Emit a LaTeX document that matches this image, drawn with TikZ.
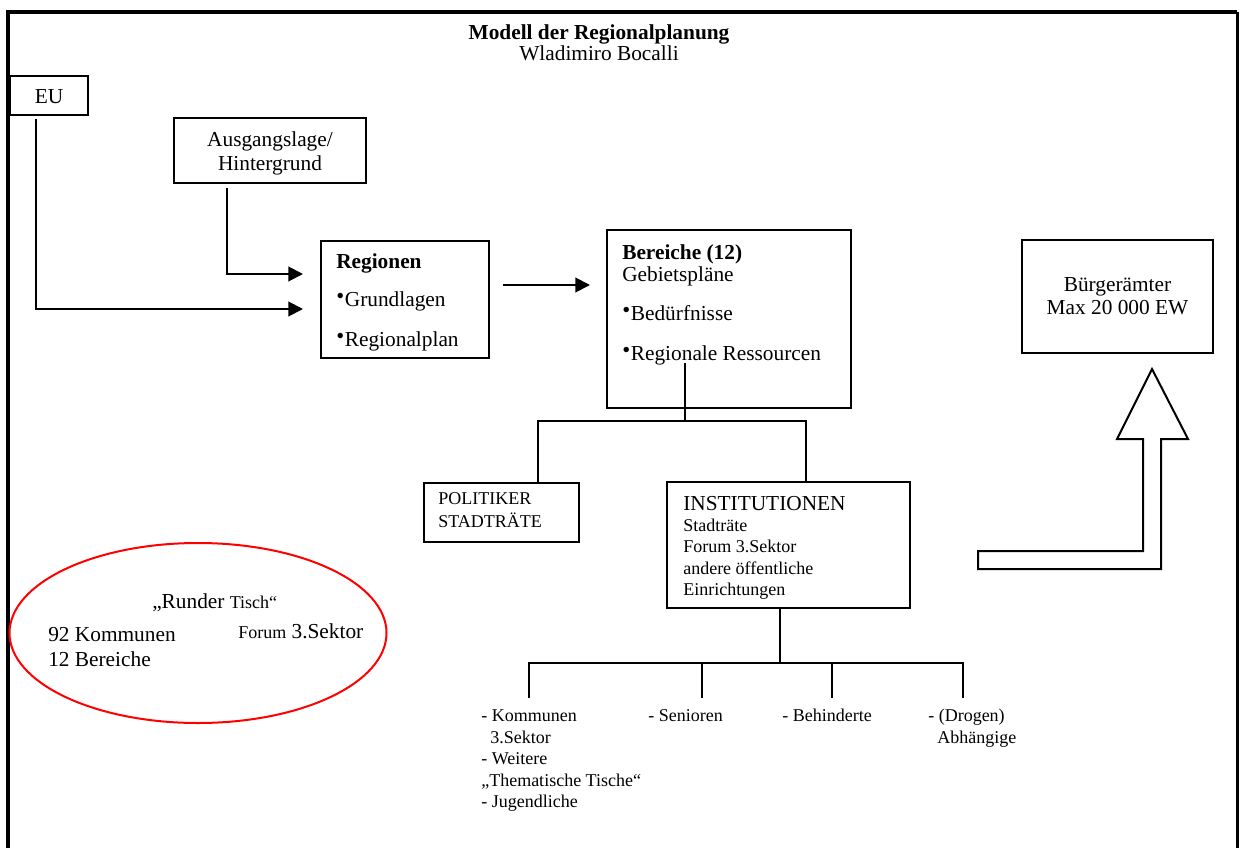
\documentclass[tikz,border=0pt]{standalone}
\usepackage{fontspec}
\setmainfont{Liberation Serif}
\usetikzlibrary{arrows.meta,calc,shapes.geometric}
\newcommand\fbig{\fontsize{16}{18}\selectfont}
\newcommand\fsmall{\fontsize{13.5}{16}\selectfont}
\newcommand\bul{\raisebox{0.3ex}{\fontsize{17}{17}\selectfont •}\kern0.5pt}
\begin{document}
\begin{tikzpicture}[x=0.75pt,y=-0.75pt,
  box/.style={draw, line width=1.5pt, anchor=north west, inner sep=0pt, outer sep=0pt},
  hbox/.style={draw, line width=2pt, anchor=north west, inner sep=0pt, outer sep=0pt},
  txt/.style={anchor=base west, inner sep=0pt, font=\fbig},
  txtc/.style={anchor=base, inner sep=0pt, font=\fbig},
  stxt/.style={anchor=base west, inner sep=0pt, font=\fsmall},
  conn/.style={line width=1.5pt},
  arr/.style={conn, -{Triangle[length=11pt,width=11pt]}}]
\useasboundingbox (0,0) rectangle (1240,847);
\clip (0,0) rectangle (1240,847);
\fill[white] (0,0) rectangle (1240,847);
% frame
\draw[line width=3pt] (8,870) -- (8,12) -- (1237,12);
\draw[line width=2.25pt] (1237,12) -- (1237,870);
% title
\node[txtc, font=\fbig\bfseries] (title) at (599,39) {Modell der Regionalplanung};
\node[txtc] (author) at (599,60) {Wladimiro Bocalli};
% boxes
\node[box, minimum width=58.5pt, minimum height=29.25pt] (eu) at (10,76) {};
\node[txtc] (eut) at (49,103) {EU};
\node[box, minimum width=144pt, minimum height=48.75pt] (aus) at (174,118) {};
\node[txtc] (aus1) at (270,146) {Ausgangslage/};
\node[txtc] (aus2) at (270,170) {Hintergrund};
\node[box, minimum width=126pt, minimum height=87.75pt] (reg) at (321,241) {};
\node[txt, font=\fbig\bfseries] (reg1) at (336,268) {Regionen};
\node[txt] (reg2) at (336,306) {\bul Grundlagen};
\node[txt] (reg3) at (336,346) {\bul Regionalplan};
\node[box, minimum width=183pt, minimum height=133.5pt] (ber) at (607,230) {};
\node[txt, font=\fbig\bfseries] (ber1) at (622,259) {Bereiche (12)};
\node[txt] (ber2) at (622,281) {Gebietspläne};
\node[txt] (ber3) at (622,320) {\bul Bedürfnisse};
\node[txt] (ber4) at (622,360) {\bul Regionale Ressourcen};
\node[hbox, minimum width=116.25pt, minimum height=44.25pt] (pol) at (424,483) {};
\node[stxt] (pol1) at (438,504) {POLITIKER};
\node[stxt] (pol2) at (438,527) {STADTRÄTE};
\node[hbox, minimum width=182.25pt, minimum height=94.5pt] (inst) at (667,482) {};
\node[txt] (inst1) at (683,510) {INSTITUTIONEN};
\node[stxt] (inst2) at (683,531) {Stadträte};
\node[stxt] (inst3) at (683,552) {Forum 3.Sektor};
\node[stxt] (inst4) at (683,574) {andere öffentliche};
\node[stxt] (inst5) at (683,595) {Einrichtungen};
\node[box, minimum width=143.25pt, minimum height=84.75pt] (bue) at (1022,240) {};
\node[txtc] (bue1) at (1117.5,291) {Bürgerämter};
\node[txtc] (bue2) at (1117.5,314) {Max 20 000 EW};
% connectors top
\coordinate (euX) at (36,0);
\coordinate (ausX) at (227,0);
\draw[arr] ($(eu.south -| euX)+(0,4)$) |- ($(reg.west)+(-18,9.5)$);
\draw[arr] ($(aus.south -| ausX)+(0,5)$) |- ($(reg.west)+(-18,-25.5)$);
\draw[arr] ($(reg.east)+(14,-14.5)$) -- ($(reg.east -| ber.west)+(-17,-14.5)$);
% Bereiche tree
\coordinate (bX) at (685,363);
\coordinate (bJ) at (685,421);
\draw[conn] (bX) -- (bJ);
\draw[conn] ($(pol.north)+(36.5,0)$) |- (bJ) -| ($(inst.north)+(17.5,0)$);
% Institutionen tree
\coordinate (iJ) at (780,663);
\coordinate (d1) at (529,698);
\coordinate (d2) at (702,698);
\coordinate (d3) at (832,698);
\coordinate (d4) at (963,698);
\draw[conn] (inst.south -| iJ) -- (iJ);
\draw[conn] (d1) |- (iJ) -| (d4);
\draw[conn] (d2) -- (d2 |- iJ);
\draw[conn] (d3) -- (d3 |- iJ);
\node[stxt] (l1) at (481,721) {- Kommunen};
\node[stxt] (l2) at (490,743) {3.Sektor};
\node[stxt] (l3) at (481,764) {- Weitere};
\node[stxt] (l4) at (481,786) {„Thematische Tische“};
\node[stxt] (l5) at (481,807) {- Jugendliche};
\node[stxt] (s1) at (648,721) {- Senioren};
\node[stxt] (b1) at (782,721) {- Behinderte};
\node[stxt] (a1) at (928,721) {- (Drogen)};
\node[stxt] (a2) at (937,743) {Abhängige};
% round table
\node[draw=red, line width=1.5pt, ellipse, minimum width=282.75pt, minimum height=135pt, inner sep=0pt] (rt) at (198,633) {};
\node[txt] (rt1) at (152,608) {„Runder {\fsmall Tisch“}};
\node[txt] (rt2) at (48,641) {92 Kommunen};
\node[txt] (rt3) at (48,666) {12 Bereiche};
\node[txt] (rt4) at (238,638) {{\fsmall Forum} 3.Sektor};
% big arrow
\draw[line width=1.5pt, line join=miter] (978,551) -- (1143,551) -- (1143,439) -- (1117,439) -- (1152,369) -- (1188,439) -- (1161,439) -- (1161,569) -- (978,569) -- cycle;
\end{tikzpicture}
\end{document}
